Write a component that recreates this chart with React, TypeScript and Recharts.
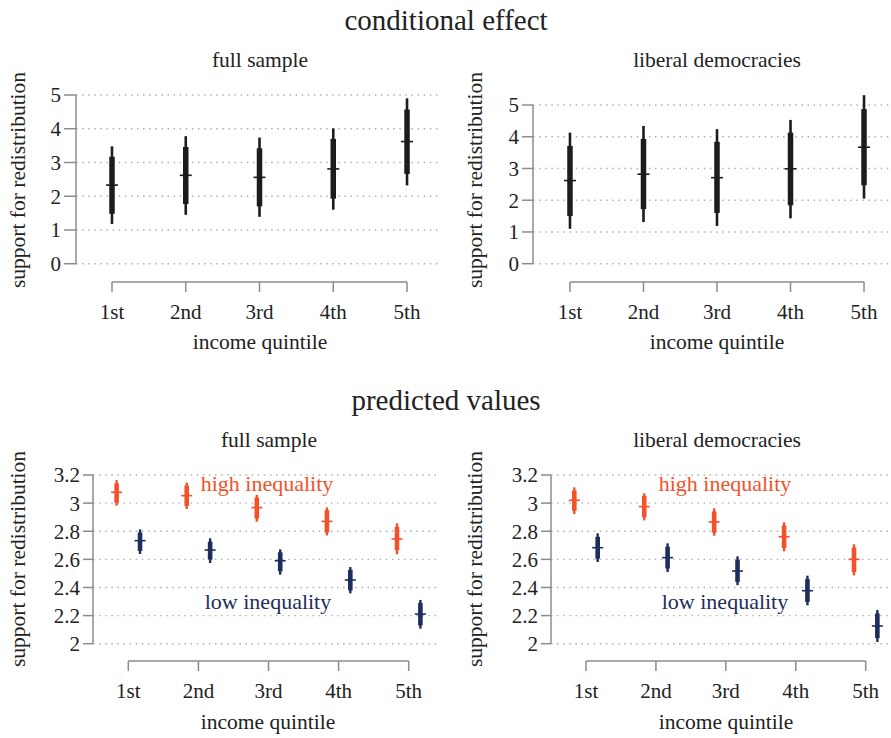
import React from 'react';
import {
  ComposedChart,
  Scatter,
  ErrorBar,
  XAxis,
  YAxis,
  CartesianGrid,
} from 'recharts';

// ---------- data ----------
const quintileLabels = ['1st', '2nd', '3rd', '4th', '5th'];
const quintileIndex = [1, 2, 3, 4, 5];

// conditional effect – full sample
const ceFullMean = [2.33, 2.62, 2.56, 2.81, 3.62];
const ceFullOuter = [[1.18, 3.48], [1.45, 3.78], [1.39, 3.74], [1.6, 4.01], [2.32, 4.9]];
const ceFullInner = [[1.48, 3.17], [1.77, 3.46], [1.7, 3.42], [1.93, 3.7], [2.66, 4.57]];

// conditional effect – liberal democracies
const ceLibMean = [2.62, 2.82, 2.71, 2.99, 3.67];
const ceLibOuter = [[1.1, 4.13], [1.31, 4.34], [1.19, 4.24], [1.43, 4.53], [2.05, 5.31]];
const ceLibInner = [[1.5, 3.71], [1.72, 3.93], [1.6, 3.84], [1.84, 4.13], [2.47, 4.87]];

// predicted values – full sample
const pvFullHighMean = [3.077, 3.053, 2.968, 2.87, 2.745];
const pvFullHighOuter = [[2.982, 3.164], [2.958, 3.145], [2.868, 3.058], [2.77, 2.97], [2.636, 2.856]];
const pvFullHighInner = [[3.003, 3.14], [2.98, 3.125], [2.89, 3.04], [2.79, 2.95], [2.665, 2.83]];
const pvFullLowMean = [2.733, 2.666, 2.59, 2.453, 2.211];
const pvFullLowOuter = [[2.638, 2.813], [2.574, 2.75], [2.491, 2.671], [2.358, 2.545], [2.107, 2.311]];
const pvFullLowInner = [[2.66, 2.79], [2.598, 2.726], [2.515, 2.65], [2.38, 2.525], [2.13, 2.29]];

// predicted values – liberal democracies
const pvLibHighMean = [3.02, 2.975, 2.866, 2.761, 2.6];
const pvLibHighOuter = [[2.923, 3.112], [2.877, 3.07], [2.768, 2.963], [2.657, 2.863], [2.486, 2.707]];
const pvLibHighInner = [[2.945, 3.09], [2.9, 3.05], [2.79, 2.94], [2.68, 2.84], [2.51, 2.685]];
const pvLibLowMean = [2.683, 2.612, 2.517, 2.377, 2.126];
const pvLibLowOuter = [[2.581, 2.785], [2.51, 2.714], [2.417, 2.621], [2.273, 2.484], [2.012, 2.24]];
const pvLibLowInner = [[2.605, 2.76], [2.535, 2.69], [2.44, 2.597], [2.297, 2.46], [2.04, 2.215]];

const ceTicks = [0, 1, 2, 3, 4, 5];
const pvTicks = [2, 2.2, 2.4, 2.6, 2.8, 3, 3.2];
const dodge = 0.167;

// ---------- styles ----------
const FONT = '"Liberation Serif", "Times New Roman", serif';
const AXIS = '#8c8c8c';
const GRID = '#b0b0b0';
const BLACK = '#1c1c1c';
const ORANGE = '#F2522B';
const NAVY = '#1D2D5C';

type Row = { x: number; y: number; outer: number[]; inner: number[] };

function buildRows(mean: number[], outer: number[][], inner: number[][], offset: number): Row[] {
  return quintileIndex.map((q, i) => ({
    x: q + offset,
    y: mean[i],
    outer: [mean[i] - outer[i][0], outer[i][1] - mean[i]],
    inner: [mean[i] - inner[i][0], inner[i][1] - mean[i]],
  }));
}

type Series = { rows: Row[]; color: string; thin: number; thick: number; tick: number };

type PanelProps = {
  left: number;
  top: number;
  width: number;
  height: number;
  marginTop: number;
  marginRight: number;
  yAxisWidth: number;
  xAxisHeight: number;
  xDomain: [number, number];
  yDomain: [number, number];
  yTicks: number[];
  yTickSize: number;
  series: Series[];
};

const Empty = () => <g />;

function Panel(p: PanelProps) {
  const tickStyle = { fill: '#222', fontSize: 21, fontFamily: FONT };
  const xLine = [
    { x: quintileIndex[0], y: p.yDomain[0] },
    { x: quintileIndex[quintileIndex.length - 1], y: p.yDomain[0] },
  ];
  const yLine = [
    { x: p.xDomain[0], y: p.yTicks[0] },
    { x: p.xDomain[0], y: p.yTicks[p.yTicks.length - 1] },
  ];
  return (
    <div style={{ position: 'absolute', left: p.left, top: p.top }}>
      <ComposedChart
        width={p.width}
        height={p.height}
        margin={{ top: p.marginTop, right: p.marginRight, bottom: 0, left: 0 }}
      >
        <CartesianGrid
          vertical={false}
          syncWithTicks
          stroke={GRID}
          strokeWidth={1.4}
          strokeDasharray="1.5 4.6"
        />
        <XAxis
          type="number"
          dataKey="x"
          domain={p.xDomain}
          ticks={quintileIndex}
          interval={0}
          tickFormatter={(v: number) => quintileLabels[Math.round(v) - 1] ?? ''}
          axisLine={false}
          tickLine={{ stroke: AXIS, strokeWidth: 1.5 }}
          tickSize={10}
          tickMargin={12}
          height={p.xAxisHeight}
          tick={tickStyle}
        />
        <YAxis
          type="number"
          domain={p.yDomain}
          ticks={p.yTicks}
          interval={0}
          axisLine={false}
          tickLine={{ stroke: AXIS, strokeWidth: 1.5 }}
          tickSize={p.yTickSize}
          tickMargin={3}
          width={p.yAxisWidth}
          tick={tickStyle}
        />
        <Scatter
          data={xLine}
          dataKey="y"
          fill={AXIS}
          line={{ stroke: AXIS, strokeWidth: 1.5 }}
          shape={Empty}
          isAnimationActive={false}
        />
        <Scatter
          data={yLine}
          dataKey="y"
          fill={AXIS}
          line={{ stroke: AXIS, strokeWidth: 1.5 }}
          shape={Empty}
          isAnimationActive={false}
        />
        {p.series.map((s, k) => (
          <Scatter
            key={k}
            data={s.rows}
            dataKey="y"
            fill={s.color}
            isAnimationActive={false}
            shape={(props: any) => (
              <line
                x1={props.cx - s.tick / 2}
                x2={props.cx + s.tick / 2}
                y1={props.cy}
                y2={props.cy}
                stroke={s.color}
                strokeWidth={1.6}
              />
            )}
          >
            <ErrorBar
              dataKey="outer"
              direction="y"
              width={0}
              stroke={s.color}
              strokeWidth={s.thin}
              isAnimationActive={false}
            />
            <ErrorBar
              dataKey="inner"
              direction="y"
              width={0}
              stroke={s.color}
              strokeWidth={s.thick}
              isAnimationActive={false}
            />
          </Scatter>
        ))}
      </ComposedChart>
    </div>
  );
}

export default function App() {
  const ceFull: Series[] = [
    { rows: buildRows(ceFullMean, ceFullOuter, ceFullInner, 0), color: BLACK, thin: 2.6, thick: 5.5, tick: 12 },
  ];
  const ceLib: Series[] = [
    { rows: buildRows(ceLibMean, ceLibOuter, ceLibInner, 0), color: BLACK, thin: 2.6, thick: 5.5, tick: 12 },
  ];
  const pvFull: Series[] = [
    { rows: buildRows(pvFullHighMean, pvFullHighOuter, pvFullHighInner, -dodge), color: ORANGE, thin: 2.4, thick: 4.6, tick: 11 },
    { rows: buildRows(pvFullLowMean, pvFullLowOuter, pvFullLowInner, dodge), color: NAVY, thin: 2.4, thick: 4.6, tick: 11 },
  ];
  const pvLib: Series[] = [
    { rows: buildRows(pvLibHighMean, pvLibHighOuter, pvLibHighInner, -dodge), color: ORANGE, thin: 2.4, thick: 4.6, tick: 11 },
    { rows: buildRows(pvLibLowMean, pvLibLowOuter, pvLibLowInner, dodge), color: NAVY, thin: 2.4, thick: 4.6, tick: 11 },
  ];

  const labelStyle = { fontFamily: FONT, fill: '#222' } as const;

  return (
    <div
      style={{
        position: 'absolute',
        left: 0,
        top: 0,
        width: 891,
        height: 738,
        background: '#ffffff',
        overflow: 'hidden',
      }}
    >
      <Panel
        left={0}
        top={0}
        width={445}
        height={370}
        marginTop={95}
        marginRight={7}
        yAxisWidth={76}
        xAxisHeight={88}
        xDomain={[0.512, 5.42]}
        yDomain={[-0.542, 5]}
        yTicks={ceTicks}
        yTickSize={12}
        series={ceFull}
      />
      <Panel
        left={445}
        top={0}
        width={446}
        height={370}
        marginTop={92}
        marginRight={0}
        yAxisWidth={88}
        xAxisHeight={88}
        xDomain={[0.497, 5.367]}
        yDomain={[-0.577, 5.41]}
        yTicks={ceTicks}
        yTickSize={11}
        series={ceLib}
      />
      <Panel
        left={0}
        top={380}
        width={445}
        height={358}
        marginTop={95}
        marginRight={7}
        yAxisWidth={93}
        xAxisHeight={77}
        xDomain={[0.496, 5.418]}
        yDomain={[1.877, 3.2]}
        yTicks={pvTicks}
        yTickSize={10}
        series={pvFull}
      />
      <Panel
        left={445}
        top={380}
        width={446}
        height={358}
        marginTop={95}
        marginRight={0}
        yAxisWidth={106}
        xAxisHeight={77}
        xDomain={[0.4995, 5.362]}
        yDomain={[1.877, 3.2]}
        yTicks={pvTicks}
        yTickSize={10}
        series={pvLib}
      />
      <svg
        width={891}
        height={738}
        style={{ position: 'absolute', left: 0, top: 0, pointerEvents: 'none' }}
      >
        <text x={446} y={30} textAnchor="middle" fontSize={29} {...labelStyle}>conditional effect</text>
        <text x={260} y={67} textAnchor="middle" fontSize={21.5} {...labelStyle}>full sample</text>
        <text x={717} y={67} textAnchor="middle" fontSize={21.5} {...labelStyle}>liberal democracies</text>
        <text x={260} y={349} textAnchor="middle" fontSize={21.5} {...labelStyle}>income quintile</text>
        <text x={717} y={349} textAnchor="middle" fontSize={21.5} {...labelStyle}>income quintile</text>
        <text x={25} y={180} textAnchor="middle" fontSize={21.5} transform="rotate(-90 25 180)" {...labelStyle}>support for redistribution</text>
        <text x={482} y={180} textAnchor="middle" fontSize={21.5} transform="rotate(-90 482 180)" {...labelStyle}>support for redistribution</text>

        <text x={446} y={410} textAnchor="middle" fontSize={29} {...labelStyle}>predicted values</text>
        <text x={269} y={447} textAnchor="middle" fontSize={21.5} {...labelStyle}>full sample</text>
        <text x={717} y={447} textAnchor="middle" fontSize={21.5} {...labelStyle}>liberal democracies</text>
        <text x={268} y={729} textAnchor="middle" fontSize={21.5} {...labelStyle}>income quintile</text>
        <text x={726} y={729} textAnchor="middle" fontSize={21.5} {...labelStyle}>income quintile</text>
        <text x={25} y={559} textAnchor="middle" fontSize={21.5} transform="rotate(-90 25 559)" {...labelStyle}>support for redistribution</text>
        <text x={482} y={559} textAnchor="middle" fontSize={21.5} transform="rotate(-90 482 559)" {...labelStyle}>support for redistribution</text>

        <text x={267} y={491} textAnchor="middle" fontSize={22} fontFamily={FONT} fill={ORANGE}>high inequality</text>
        <text x={268} y={609} textAnchor="middle" fontSize={22} fontFamily={FONT} fill={NAVY}>low inequality</text>
        <text x={725} y={491} textAnchor="middle" fontSize={22} fontFamily={FONT} fill={ORANGE}>high inequality</text>
        <text x={725} y={609} textAnchor="middle" fontSize={22} fontFamily={FONT} fill={NAVY}>low inequality</text>
      </svg>
    </div>
  );
}
